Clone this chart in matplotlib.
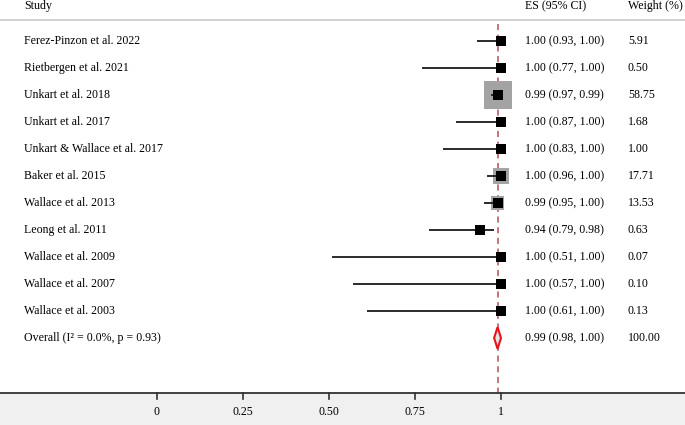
import matplotlib.pyplot as plt
from matplotlib.patches import Polygon
import numpy as np

plt.rcParams['font.family'] = ['Liberation Serif', 'DejaVu Serif']
plt.rcParams['font.size'] = 8.6

studies = ["Ferez-Pinzon et al. 2022", "Rietbergen et al. 2021", "Unkart et al. 2018",
           "Unkart et al. 2017", "Unkart & Wallace et al. 2017", "Baker et al. 2015",
           "Wallace et al. 2013", "Leong et al. 2011", "Wallace et al. 2009",
           "Wallace et al. 2007", "Wallace et al. 2003"]
es = [1.00, 1.00, 0.99, 1.00, 1.00, 1.00, 0.99, 0.94, 1.00, 1.00, 1.00]
lo = [0.93, 0.77, 0.97, 0.87, 0.83, 0.96, 0.95, 0.79, 0.51, 0.57, 0.61]
hi = [1.00, 1.00, 0.99, 1.00, 1.00, 1.00, 1.00, 0.98, 1.00, 1.00, 1.00]
weight = [5.91, 0.50, 58.75, 1.68, 1.00, 17.71, 13.53, 0.63, 0.07, 0.10, 0.13]

overall_label = "Overall (I\u00b2 = 0.0%, p = 0.93)"
overall_es, overall_lo, overall_hi = 0.99, 0.98, 1.00
overall_weight = 100.00
xticks = [0, 0.25, 0.50, 0.75, 1]
xtick_labels = ["0", "0.25", "0.50", "0.75", "1"]

W, H = 685, 425
fig = plt.figure(figsize=(W / 100, H / 100), dpi=100)
ax = fig.add_axes([0, 0, 1, 1])
ax.axis('off')

# pixel layout -> data: x 0 at 157px, 1 at 501px ; rows start 41px, 27px apart
px0, px1 = 157, 501
ppu = px1 - px0
row0, rowh = 41, 27
def X(p):
    return (p - px0) / ppu
def Y(p):
    return (p - row0) / rowh

ax.set_xlim(X(0), X(W))
ax.set_ylim(Y(H), Y(0))

n = len(studies)
rows = np.arange(n)

# header
ax.text(X(24), Y(6), "Study", va='center', ha='left')
ax.text(X(525), Y(6), "ES (95% CI)", va='center', ha='left')
ax.text(X(628), Y(6), "Weight (%)", va='center', ha='left')
ax.axhline(Y(20), color='#c8c8c8', lw=1.2)

# reference line at overall estimate
ax.plot([overall_es, overall_es], [Y(24), Y(393)], color='#b5505a', lw=1.1,
        ls=(0, (4, 3)), zorder=1)

# weight boxes
side_px = 28 * np.sqrt(np.array(weight) / max(weight))
ax.scatter(es, rows, marker='s', s=(side_px * 0.72) ** 2, color='#a3a3a3', zorder=2,
           linewidths=0)
# CI lines
ax.hlines(rows, lo, hi, color='#1a1a1a', lw=1.3, zorder=3)
ax.scatter(es, rows, marker='s', s=(10 * 0.72) ** 2, color='black', zorder=4, linewidths=0)

for i in range(n):
    ax.text(X(24), i, studies[i], va='center', ha='left')
    ax.text(X(525), i, "%.2f (%.2f, %.2f)" % (es[i], lo[i], hi[i]), va='center', ha='left')
    ax.text(X(628), i, "%.2f" % weight[i], va='center', ha='left')

# overall
yo = n
ax.text(X(24), yo, overall_label, va='center', ha='left')
ax.text(X(525), yo, "%.2f (%.2f, %.2f)" % (overall_es, overall_lo, overall_hi),
        va='center', ha='left')
ax.text(X(628), yo, "%.2f" % overall_weight, va='center', ha='left')
dh = 0.4
diamond = Polygon([[overall_lo, yo], [overall_es, yo - dh], [overall_hi, yo], [overall_es, yo + dh]],
                  closed=True, facecolor='#e4e4e4', edgecolor='#e8141c', lw=1.5, zorder=5)
ax.add_patch(diamond)

# x axis band
ax.axhspan(Y(393), Y(H), color='#f0f0f0', zorder=0, lw=0)
ax.axhline(Y(393), color='#333333', lw=1.3)
for t, lab in zip(xticks, xtick_labels):
    ax.plot([t, t], [Y(393), Y(399)], color='#333333', lw=1.2)
    ax.text(t, Y(412), lab, ha='center', va='center')

fig.savefig('out.png', dpi=100)
